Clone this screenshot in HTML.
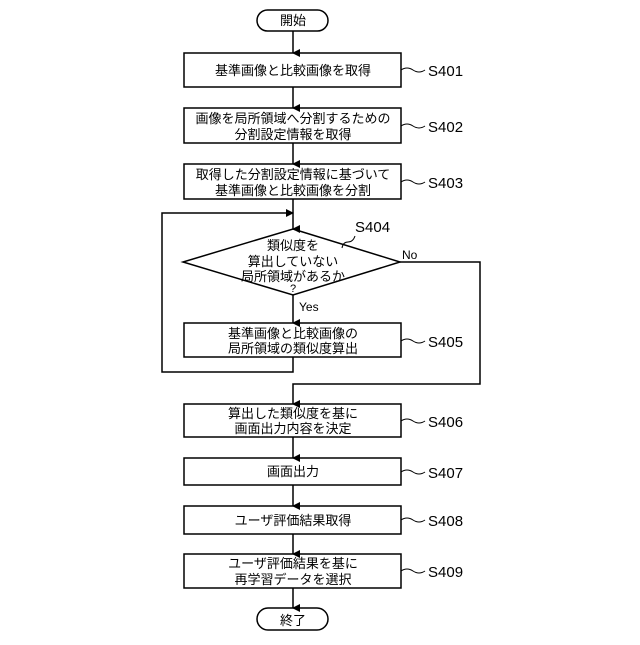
<!DOCTYPE html>
<html><head><meta charset="utf-8"><style>body{margin:0;background:#fff}</style></head><body>
<svg width="640" height="640" xmlns="http://www.w3.org/2000/svg" font-family="Liberation Sans, Noto Sans CJK JP, sans-serif">
<defs><marker id="a" markerWidth="8" markerHeight="8" refX="4" refY="7" orient="auto" markerUnits="userSpaceOnUse"><path d="M0,0 L8,0 L4,8z" fill="#000"/></marker>
<marker id="r" markerWidth="8" markerHeight="8" refX="7" refY="4" orient="auto" markerUnits="userSpaceOnUse"><path d="M0,0 L8,4 L0,8z" fill="#000"/></marker></defs>
<g stroke="#000" stroke-width="1.5" fill="none">
<rect x="257" y="10" width="71" height="21" rx="10.5"/>
<rect x="184" y="53" width="217" height="34"/>
<rect x="184" y="108" width="217" height="35"/>
<rect x="184" y="164" width="217" height="35"/>
<polygon points="293,229 400,262 293,295 183,262"/>
<rect x="184" y="323" width="217" height="34"/>
<rect x="184" y="404" width="217" height="33"/>
<rect x="184" y="458" width="217" height="27"/>
<rect x="184" y="506" width="217" height="28"/>
<rect x="184" y="554" width="217" height="34"/>
<rect x="257" y="608" width="71" height="22" rx="11"/>
<line x1="293" y1="31" x2="293" y2="53" marker-end="url(#a)"/>
<line x1="293" y1="87" x2="293" y2="108" marker-end="url(#a)"/>
<line x1="293" y1="143" x2="293" y2="164" marker-end="url(#a)"/>
<line x1="293" y1="199" x2="293" y2="229" marker-end="url(#a)"/>
<line x1="293" y1="295" x2="293" y2="323" marker-end="url(#a)"/>
<polyline points="293,357 293,372 162,372 162,213 293,213" marker-end="url(#r)"/>
<polyline points="400,262 480,262 480,384 293,384 293,404" marker-end="url(#a)"/>
<line x1="293" y1="437" x2="293" y2="458" marker-end="url(#a)"/>
<line x1="293" y1="485" x2="293" y2="506" marker-end="url(#a)"/>
<line x1="293" y1="534" x2="293" y2="554" marker-end="url(#a)"/>
<line x1="293" y1="588" x2="293" y2="608" marker-end="url(#a)"/>
<g stroke-width="1">
<path d="M401,70 q6,-4 12,0 t12,0"/><path d="M401,126 q6,-4 12,0 t12,0"/><path d="M401,182 q6,-4 12,0 t12,0"/>
<path d="M401,341 q6,-4 12,0 t12,0"/><path d="M401,421 q6,-4 12,0 t12,0"/><path d="M401,472 q6,-4 12,0 t12,0"/>
<path d="M401,520 q6,-4 12,0 t12,0"/><path d="M401,571 q6,-4 12,0 t12,0"/>
<path d="M355,236 q-2,6 -7,6 t-6,6"/>
</g></g>
<g font-size="13" text-anchor="middle" fill="#000">
<text x="293" y="25">開始</text>
<text x="293" y="75">基準画像と比較画像を取得</text>
<text x="293" y="123">画像を局所領域へ分割するための</text><text x="293" y="139">分割設定情報を取得</text>
<text x="293" y="179">取得した分割設定情報に基づいて</text><text x="293" y="195">基準画像と比較画像を分割</text>
<text x="293" y="250">類似度を</text><text x="293" y="266">算出していない</text><text x="293" y="281">局所領域があるか</text><text x="293" y="292" font-size="11">?</text>
<text x="293" y="338">基準画像と比較画像の</text><text x="293" y="353">局所領域の類似度算出</text>
<text x="293" y="418">算出した類似度を基に</text><text x="293" y="433">画面出力内容を決定</text>
<text x="293" y="476">画面出力</text>
<text x="293" y="525">ユーザ評価結果取得</text>
<text x="293" y="568">ユーザ評価結果を基に</text><text x="293" y="584">再学習データを選択</text>
<text x="293" y="625">終了</text>
</g>
<g font-size="15" fill="#000">
<text x="428" y="76">S401</text><text x="428" y="132">S402</text><text x="428" y="188">S403</text>
<text x="355" y="232">S404</text><text x="428" y="347">S405</text><text x="428" y="427">S406</text>
<text x="428" y="478">S407</text><text x="428" y="526">S408</text><text x="428" y="577">S409</text>
</g>
<g font-size="12" fill="#000"><text x="402" y="259">No</text><text x="299" y="311">Yes</text></g>
</svg>
</body></html>
